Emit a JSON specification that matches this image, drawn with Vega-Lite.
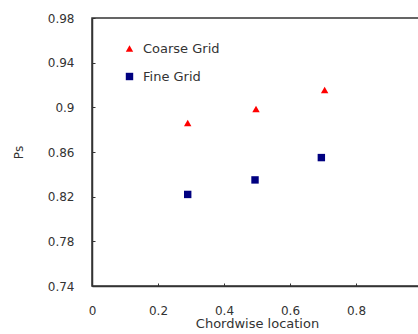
{
  "$schema": "https://vega.github.io/schema/vega-lite/v6.json",
  "width": 330,
  "height": 268,
  "autosize": {"type": "none"},
  "padding": {"left": 92, "top": 18, "right": 0, "bottom": 48},
  "background": "white",
  "config": {
    "view": {"stroke": "#333333", "strokeWidth": 1.5},
    "font": "DejaVu Sans"
  },
  "data": {
    "values": [
      {"x": 0.29, "y": 0.886, "grid": "Coarse Grid"},
      {"x": 0.497, "y": 0.8985, "grid": "Coarse Grid"},
      {"x": 0.705, "y": 0.9155, "grid": "Coarse Grid"},
      {"x": 0.29, "y": 0.822, "grid": "Fine Grid"},
      {"x": 0.494, "y": 0.835, "grid": "Fine Grid"},
      {"x": 0.695, "y": 0.855, "grid": "Fine Grid"}
    ]
  },
  "mark": {"type": "point", "filled": true, "opacity": 1},
  "encoding": {
    "x": {
      "field": "x", "type": "quantitative",
      "scale": {"domain": [0, 1], "nice": false, "zero": false},
      "axis": {
        "values": [0, 0.2, 0.4, 0.6, 0.8, 1],
        "format": "~g",
        "grid": false,
        "title": "Chordwise location",
        "titleFont": "DejaVu Sans",
        "titleFontSize": 13,
        "titleFontWeight": "normal",
        "titleColor": "#333333",
        "titlePadding": 1,
        "labelFontSize": 12,
        "labelColor": "#333333",
        "labelPadding": 22,
        "tickSize": -3,
        "tickColor": "#333333",
        "domainColor": "#333333",
        "domainWidth": 1.5,
        "labelFlush": false,
        "labelOverlap": false
      }
    },
    "y": {
      "field": "y", "type": "quantitative",
      "scale": {"domain": [0.74, 0.98], "nice": false, "zero": false},
      "axis": {
        "values": [0.74, 0.78, 0.82, 0.86, 0.9, 0.94, 0.98],
        "format": "~g",
        "grid": false,
        "title": "Ps",
        "titleFont": "DejaVu Sans",
        "titleFontSize": 12,
        "titleFontWeight": "normal",
        "titleColor": "#333333",
        "titlePadding": 22,
        "labelFontSize": 12,
        "labelColor": "#333333",
        "labelPadding": 21,
        "tickSize": -3,
        "tickColor": "#333333",
        "domainColor": "#333333",
        "domainWidth": 1.5,
        "labelFlush": false,
        "labelOverlap": false
      }
    },
    "color": {
      "field": "grid", "type": "nominal",
      "scale": {"domain": ["Coarse Grid", "Fine Grid"], "range": ["#ff0000", "#000080"]},
      "legend": {
        "title": null,
        "orient": "none",
        "legendX": 31,
        "legendY": 24,
        "labelFontSize": 13,
        "labelColor": "#333333",
        "rowPadding": 14,
        "symbolSize": 55,
        "labelOffset": 7
      }
    },
    "shape": {
      "field": "grid", "type": "nominal",
      "scale": {"domain": ["Coarse Grid", "Fine Grid"], "range": ["triangle-up", "square"]}
    },
    "size": {"value": 55}
  }
}
